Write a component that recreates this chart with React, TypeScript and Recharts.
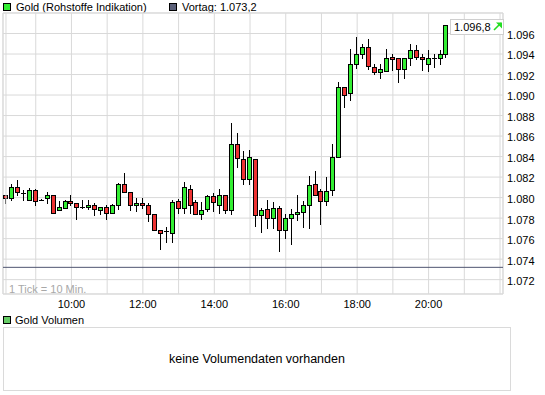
import React from "react";
import {
  ComposedChart,
  Bar,
  XAxis,
  YAxis,
  CartesianGrid,
  ReferenceLine,
  ReferenceArea,
} from "recharts";

const times: string[] = [
  "08:10", "08:20", "08:30", "08:40", "08:50",
  "09:00", "09:10", "09:20", "09:30", "09:40", "09:50",
  "10:00", "10:10", "10:20", "10:30", "10:40", "10:50",
  "11:00", "11:10", "11:20", "11:30", "11:40", "11:50",
  "12:00", "12:10", "12:20", "12:30", "12:40", "12:50",
  "13:00", "13:10", "13:20", "13:30", "13:40", "13:50",
  "14:00", "14:10", "14:20", "14:30", "14:40", "14:50",
  "15:00", "15:10", "15:20", "15:30", "15:40", "15:50",
  "16:00", "16:10", "16:20", "16:30", "16:40", "16:50",
  "17:00", "17:10", "17:20", "17:30", "17:40", "17:50",
  "18:00", "18:10", "18:20", "18:30", "18:40", "18:50",
  "19:00", "19:10", "19:20", "19:30", "19:40", "19:50",
  "20:00", "20:10", "20:20", "20:30",
];

const opens: number[] = [
  1.0803, 1.0800, 1.0810, 1.0804, 1.0798,
  1.0807, 1.0798, 1.0800, 1.0803, 1.0788, 1.0790,
  1.0797, 1.0795, 1.0791, 1.0791, 1.0793, 1.0788,
  1.0791, 1.0785, 1.0793, 1.0813, 1.0805, 1.0793,
  1.0795, 1.0793, 1.0784, 1.0768, 1.0767, 1.0765,
  1.0797, 1.0790, 1.0808, 1.0796, 1.0784, 1.0789,
  1.0802, 1.0793, 1.0803, 1.0788, 1.0852, 1.0838,
  1.0818, 1.0838, 1.0783, 1.0789, 1.0780, 1.0790,
  1.0768, 1.0780, 1.0784, 1.0786, 1.0793, 1.0813,
  1.0806, 1.0797, 1.0807, 1.0840, 1.0908, 1.0902,
  1.0930, 1.0940, 1.0947, 1.0927, 1.0922, 1.0923,
  1.0937, 1.0936, 1.0925, 1.0936, 1.0944, 1.0937,
  1.0930, 1.0936, 1.0936, 1.0940,
];

const highs: number[] = [
  1.0803, 1.0813, 1.0817, 1.0807, 1.0809,
  1.0808, 1.07985, 1.0805, 1.0803, 1.0797, 1.0798,
  1.0803, 1.0795, 1.0798, 1.0798, 1.0795, 1.0790,
  1.0793, 1.0794, 1.0814, 1.0824, 1.0805, 1.0800,
  1.0800, 1.0795, 1.0784, 1.0768, 1.0771, 1.0798,
  1.0799, 1.0815, 1.0812, 1.0798, 1.0796, 1.0803,
  1.0804, 1.0808, 1.0803, 1.0873, 1.0863, 1.0845,
  1.0846, 1.0838, 1.0790, 1.0798, 1.0796, 1.0792,
  1.0784, 1.0789, 1.0803, 1.0797, 1.0821, 1.0826,
  1.0808, 1.0820, 1.0852, 1.0913, 1.0908, 1.0945,
  1.0957, 1.0950, 1.0955, 1.0930, 1.0930, 1.0945,
  1.0940, 1.0936, 1.0936, 1.0950, 1.0949, 1.0940,
  1.0944, 1.0940, 1.0944, 1.0968,
];

const lows: number[] = [
  1.0795, 1.0798, 1.0803, 1.0798, 1.0798,
  1.0793, 1.0798, 1.0795, 1.0785, 1.0788, 1.0790,
  1.0793, 1.0779, 1.0790, 1.0789, 1.0783, 1.0784,
  1.0779, 1.0785, 1.0789, 1.0805, 1.0788, 1.0787,
  1.0790, 1.0777, 1.0768, 1.0750, 1.0757, 1.0757,
  1.0785, 1.0785, 1.0785, 1.0784, 1.0779, 1.0787,
  1.0787, 1.0785, 1.0785, 1.0784, 1.0830, 1.0813,
  1.0813, 1.0772, 1.0766, 1.0770, 1.0770, 1.0748,
  1.0761, 1.0755, 1.0778, 1.0771, 1.0770, 1.0803,
  1.0774, 1.0793, 1.0803, 1.0840, 1.0888, 1.0895,
  1.0926, 1.0936, 1.0925, 1.0921, 1.0917, 1.0923,
  1.0924, 1.0913, 1.0917, 1.0929, 1.0935, 1.0924,
  1.0923, 1.0927, 1.0930, 1.0937,
];

const closes: number[] = [
  1.0800, 1.0810, 1.0805, 1.0804, 1.0807,
  1.0797, 1.0798, 1.0803, 1.0785, 1.0791, 1.0797,
  1.0795, 1.0791, 1.0791, 1.0793, 1.0789, 1.0791,
  1.0785, 1.0793, 1.0813, 1.0805, 1.0793, 1.0795,
  1.0793, 1.0784, 1.0768, 1.0765, 1.0767, 1.0796,
  1.0790, 1.0810, 1.0793, 1.0784, 1.0788, 1.0802,
  1.0796, 1.0803, 1.0788, 1.0852, 1.0839, 1.0818,
  1.0840, 1.0783, 1.0788, 1.0780, 1.0790, 1.0768,
  1.0780, 1.0784, 1.0786, 1.0793, 1.0812, 1.0803,
  1.0797, 1.0806, 1.0840, 1.0908, 1.0900, 1.0930,
  1.0940, 1.0947, 1.0928, 1.0922, 1.0925, 1.0936,
  1.0935, 1.0925, 1.0936, 1.0944, 1.0937, 1.0935,
  1.0936, 1.0936, 1.0940, 1.0968,
];

const previousClose = 1.0732;
const hourTicks: string[] = [
  "09:00", "10:00", "11:00", "12:00", "13:00", "14:00", "15:00",
  "16:00", "17:00", "18:00", "19:00", "20:00", "21:00", "22:00",
];
const hourLabels: string[] = ["10:00", "12:00", "14:00", "16:00", "18:00", "20:00"];
const priceTicks: number[] = [
  1.072, 1.074, 1.076, 1.078, 1.08, 1.082, 1.084, 1.086, 1.088, 1.09,
  1.092, 1.094, 1.096, 1.098,
];
const priceLabels: number[] = [
  1.072, 1.074, 1.076, 1.078, 1.08, 1.082, 1.084, 1.086, 1.088, 1.09,
  1.092, 1.094, 1.096,
];

const toMin = (s: string) => {
  const [h, m] = s.split(":").map(Number);
  return h * 60 + m;
};
const fromMin = (v: number) => {
  const h = Math.floor(v / 60);
  const m = v % 60;
  return `${String(h).padStart(2, "0")}:${String(m).padStart(2, "0")}`;
};

const data = times.map((t, i) => ({
  t: toMin(t),
  open: opens[i],
  high: highs[i],
  low: lows[i],
  close: closes[i],
  range: [lows[i], highs[i]],
}));

const GREEN = "#33ee33";
const RED = "#ee3333";
const GRID = "#d9d9d9";
const FONT = "'Liberation Sans', Arial, sans-serif";

const Candle = (props: any) => {
  const { x, y, width, height, payload } = props;
  if (!payload || x == null || y == null) return null;
  const { open, close, high, low } = payload;
  const range = high - low;
  const k = range > 0 ? height / range : 0;
  const yOf = (v: number) => y + (high - v) * k;
  const c = Math.floor(x + width / 2) + 0.5;
  const up = close >= open;
  const top = Math.round(yOf(Math.max(open, close))) + 0.5;
  const bot = Math.round(yOf(Math.min(open, close))) + 0.5;
  const wTop = Math.round(y);
  const wBot = Math.round(y + height) + 1;
  return (
    <g>
      <line x1={c} x2={c} y1={wTop} y2={wBot} stroke="#000" strokeWidth={1} />
      {bot - top >= 1 ? (
        <rect
          x={c - 2}
          y={top}
          width={4}
          height={bot - top}
          fill={up ? GREEN : RED}
          stroke="#000"
          strokeWidth={1}
        />
      ) : (
        <line x1={c - 2.5} x2={c + 2.5} y1={top} y2={top} stroke="#000" strokeWidth={1} />
      )}
    </g>
  );
};

const last = closes[closes.length - 1];
// 1.0968 -> "1.096,8" (thousands separator '.', decimal ',')
const fmtDE = (v: number) => {
  const s = (v * 1000).toFixed(1); // "1096.8"
  const [intPart, dec] = s.split(".");
  const withSep = intPart.replace(/\B(?=(\d{3})+(?!\d))/g, ".");
  return `${withSep},${dec}`;
};

export default function App() {
  const x0 = toMin("08:05");
  const x1 = toMin("22:05");
  return (
    <div
      style={{
        position: "absolute",
        left: 0,
        top: 0,
        width: 545,
        height: 395,
        background: "#fff",
        fontFamily: FONT,
        fontSize: 11,
        color: "#000",
        overflow: "hidden",
      }}
    >
      {/* top legend */}
      <div style={{ position: "absolute", left: 3, top: 3, width: 6, height: 6, background: GREEN, border: "1px solid #000" }} />
      <div style={{ position: "absolute", left: 16, top: 0, lineHeight: "14px" }}>Gold (Rohstoffe Indikation)</div>
      <div style={{ position: "absolute", left: 169, top: 3, width: 6, height: 6, background: "#5b6079", border: "1px solid #000" }} />
      <div style={{ position: "absolute", left: 182, top: 0, lineHeight: "14px" }}>
        Vortag: {fmtDE(previousClose)}
      </div>

      <div style={{ position: "absolute", left: 0, top: 0 }}>
        <ComposedChart
          width={545}
          height={320}
          data={data}
          margin={{ top: 13, right: 0, bottom: 0, left: 3 }}
        >
          <CartesianGrid stroke={GRID} strokeDasharray="" />
          <XAxis
            dataKey="t"
            type="number"
            domain={[x0, x1]}
            allowDataOverflow
            ticks={hourTicks.map(toMin)}
            tickFormatter={(v: number) => (hourLabels.includes(fromMin(v)) ? fromMin(v) : "")}
            axisLine={false}
            tickLine={false}
            tickSize={0}
            tickMargin={6}
            height={26}
            interval={0}
            tick={{ fill: "#000", fontSize: 11, fontFamily: FONT }}
          />
          <YAxis
            orientation="right"
            type="number"
            domain={[1.0706, 1.098]}
            allowDataOverflow
            ticks={priceTicks}
            tickFormatter={(v: number) => (priceLabels.some((p) => Math.abs(p - v) < 1e-9) ? v.toFixed(3) : "")}
            axisLine={false}
            tickLine={false}
            tickSize={0}
            tickMargin={4}
            width={42}
            interval={0}
            tick={{ fill: "#000", fontSize: 11, fontFamily: FONT, dy: 1.5 }}
          />
          <ReferenceArea
            x1={x0}
            x2={x1}
            y1={1.0706}
            y2={1.098}
            fill="none"
            stroke={GRID}
            strokeWidth={1}
            ifOverflow="visible"
          />
          <ReferenceLine x={toMin("08:10")} stroke={GRID} />
          <ReferenceLine y={previousClose} stroke="#4f5570" strokeWidth={1} />
          <Bar
            dataKey="range"
            barSize={5}
            shape={<Candle />}
            isAnimationActive={false}
          />
        </ComposedChart>
      </div>

      {/* last price box */}
      <div
        style={{
          position: "absolute",
          left: 450,
          top: 19,
          width: 54,
          height: 16,
          background: "#fff",
          border: "1px solid #cfcfcf",
          boxSizing: "border-box",
        }}
      />
      <div style={{ position: "absolute", left: 454, top: 20, lineHeight: "14px" }}>{fmtDE(last)}</div>
      <svg style={{ position: "absolute", left: 493, top: 21 }} width={10} height={10}>
        <path d="M1 9 L8 2" stroke="#22dd22" strokeWidth={1.6} />
        <path d="M3 1.5 L9 1.5 L9 7.5 Z" fill="#22dd22" />
      </svg>

      {/* tick note */}
      <div style={{ position: "absolute", left: 9, top: 282, lineHeight: "14px", color: "#a8a8a8" }}>1 Tick = 10 Min.</div>

      {/* volume panel */}
      <div style={{ position: "absolute", left: 3, top: 316, width: 6, height: 6, background: "#66cc66", border: "1px solid #000" }} />
      <div style={{ position: "absolute", left: 15, top: 313, lineHeight: "14px" }}>Gold Volumen</div>
      <div
        style={{
          position: "absolute",
          left: 3,
          top: 327,
          width: 508,
          height: 64,
          border: "1px solid #dadada",
          boxSizing: "border-box",
          display: "flex",
          alignItems: "center",
          justifyContent: "center",
          fontSize: 12.5,
        }}
      >
        keine Volumendaten vorhanden
      </div>
    </div>
  );
}
